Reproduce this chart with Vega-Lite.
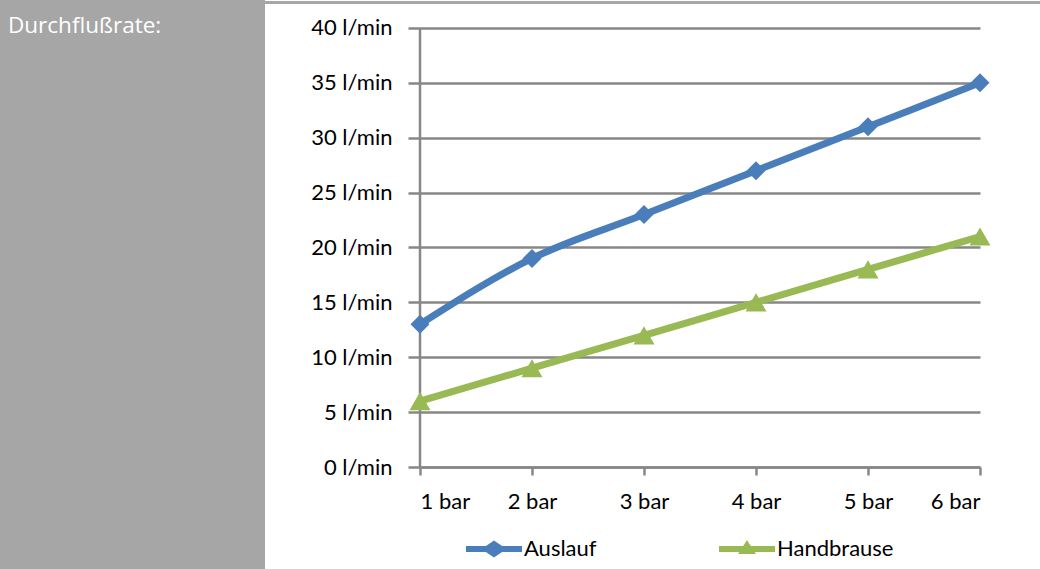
{
  "$schema": "https://vega.github.io/schema/vega-lite/v6.json",
  "padding": 0,
  "background": "white",
  "spacing": 155,
  "bounds": "flush",
  "config": {"font": "Lato", "view": {"stroke": null}},
  "datasets": {
    "flow": [
      {"pressure": 1, "flow": 13, "series": "Auslauf"},
      {"pressure": 2, "flow": 19, "series": "Auslauf"},
      {"pressure": 3, "flow": 23, "series": "Auslauf"},
      {"pressure": 4, "flow": 27, "series": "Auslauf"},
      {"pressure": 5, "flow": 31, "series": "Auslauf"},
      {"pressure": 6, "flow": 35, "series": "Auslauf"},
      {"pressure": 1, "flow": 6, "series": "Handbrause"},
      {"pressure": 2, "flow": 9, "series": "Handbrause"},
      {"pressure": 3, "flow": 12, "series": "Handbrause"},
      {"pressure": 4, "flow": 15, "series": "Handbrause"},
      {"pressure": 5, "flow": 18, "series": "Handbrause"},
      {"pressure": 6, "flow": 21, "series": "Handbrause"}
    ]
  },
  "hconcat": [
    {
      "width": 265,
      "height": 569,
      "view": {"fill": "#a6a6a6", "stroke": null},
      "data": {"values": [{"label": "Durchflußrate:"}]},
      "mark": {"type": "text", "align": "left", "baseline": "alphabetic", "color": "#ffffff", "font": "Open Sans", "fontSize": 22.5},
      "encoding": {
        "text": {"field": "label"},
        "x": {"datum": 8, "type": "quantitative", "scale": {"domain": [0, 265], "nice": false, "zero": false}, "axis": null},
        "y": {"datum": 32.5, "type": "quantitative", "scale": {"domain": [0, 569], "nice": false, "reverse": true}, "axis": null}
      }
    },
    {
      "width": 560,
      "height": 467,
      "data": {"name": "flow"},
      "layer": [
        {
          "data": {"values": [{}]},
          "mark": {"type": "rule", "color": "#a6a6a6", "strokeWidth": 3},
          "encoding": {
            "x": {"datum": -0.384, "type": "quantitative"},
            "x2": {"datum": 6.536},
            "y": {"datum": 42.32, "type": "quantitative"}
          }
        },
        {
          "data": {"values": [{}]},
          "mark": {"type": "rule", "color": "#878787", "strokeWidth": 2.5},
          "encoding": {
            "x": {"datum": 1, "type": "quantitative"},
            "y": {"datum": 0, "type": "quantitative"},
            "y2": {"datum": 40}
          }
        },
        {
          "mark": {"type": "line", "interpolate": "monotone", "strokeWidth": 7, "strokeCap": "round"},
          "encoding": {
            "x": {
              "field": "pressure", "type": "quantitative",
              "scale": {"domain": [1, 6], "nice": false, "zero": false},
              "axis": {"values": [1, 2, 3, 4, 5, 6], "labelExpr": "datum.value + ' bar'", "title": null, "grid": false, "domain": true, "domainColor": "#878787", "domainWidth": 2.5, "tickColor": "#878787", "tickWidth": 2.5, "tickSize": 8, "labelPadding": 16, "labelFontSize": 22, "labelFont": "Lato", "labelColor": "#000000"}
            },
            "y": {
              "field": "flow", "type": "quantitative",
              "scale": {"domain": [0, 42.55], "nice": false, "zero": true},
              "axis": {"values": [0, 5, 10, 15, 20, 25, 30, 35, 40], "labelExpr": "datum.value + ' l/min'", "title": null, "domain": false, "grid": true, "gridColor": "#878787", "gridWidth": 2.5, "tickColor": "#878787", "tickWidth": 2.5, "tickSize": 12, "labelPadding": 16, "labelFontSize": 22, "labelFont": "Lato", "labelColor": "#000000"}
            },
            "color": {
              "field": "series", "type": "nominal",
              "scale": {"domain": ["Auslauf", "Handbrause"], "range": ["#4a7ebb", "#98b954"]},
              "legend": {
                "orient": "none", "legendX": 466, "legendY": 521, "direction": "horizontal", "title": null,
                "symbolSize": 3136, "labelFontSize": 22, "labelFont": "Lato", "labelColor": "#000000", "labelOffset": 2, "columnPadding": 122,
                "encode": {"symbols": {"update": {
                  "shape": {"signal": "datum.value === 'Auslauf' ? 'M-1,-0.11L-0.29,-0.11L0,-0.3L0.29,-0.11L1,-0.11L1,0.11L0.29,0.11L0,0.3L-0.29,0.11L-1,0.11Z' : 'M-1,-0.11L-0.136,-0.11L0,-0.32L0.136,-0.11L1,-0.11L1,0.11L0.275,0.11L0.32,0.18L-0.32,0.18L-0.275,0.11L-1,0.11Z'"},
                  "fill": {"signal": "scale('color', datum.value)"},
                  "fillOpacity": {"value": 1},
                  "strokeWidth": {"value": 0}
                }}}
              }
            }
          }
        },
        {
          "transform": [{"filter": "datum.series === 'Auslauf'"}],
          "mark": {"type": "point", "filled": true, "opacity": 1, "shape": "diamond", "size": 361, "color": "#4a7ebb"},
          "encoding": {
            "x": {"field": "pressure", "type": "quantitative"},
            "y": {"field": "flow", "type": "quantitative"}
          }
        },
        {
          "transform": [{"filter": "datum.series === 'Handbrause'"}],
          "mark": {"type": "point", "filled": true, "opacity": 1, "shape": "triangle-up", "size": 440, "color": "#98b954"},
          "encoding": {
            "x": {"field": "pressure", "type": "quantitative"},
            "y": {"field": "flow", "type": "quantitative"}
          }
        }
      ]
    }
  ]
}
